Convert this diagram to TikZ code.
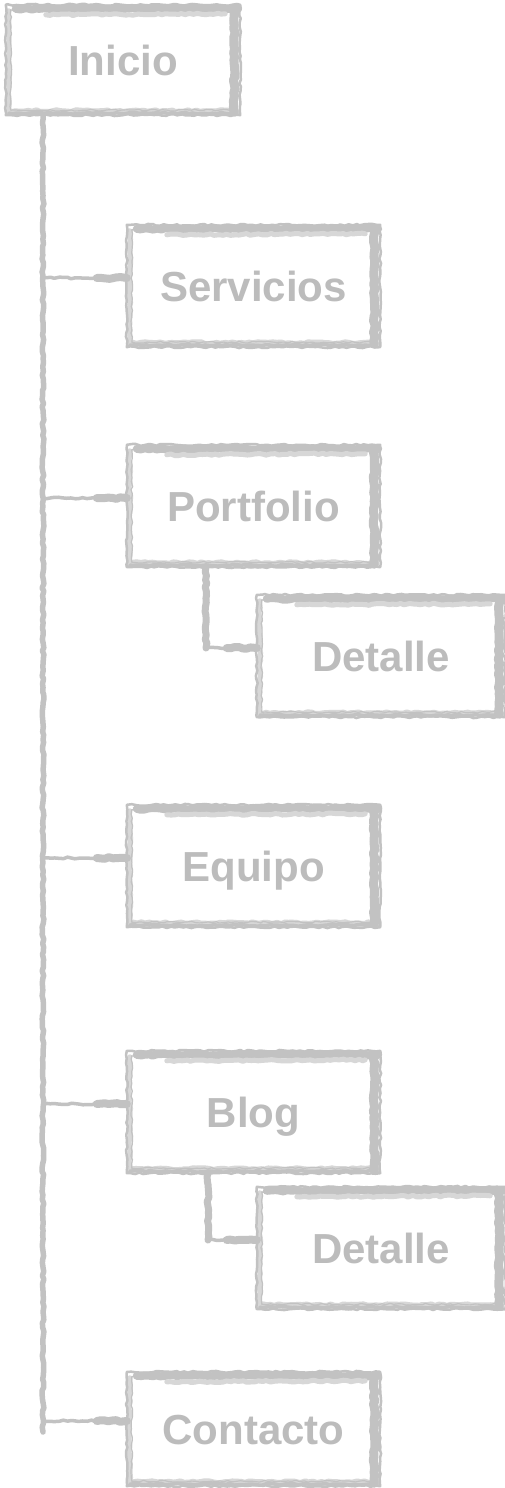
\documentclass[tikz,border=0pt]{standalone}
\usepackage{fontspec}
\setmainfont{Liberation Sans}
\usetikzlibrary{decorations.pathmorphing,calc}
\definecolor{brush}{RGB}{194,194,194}
\definecolor{brushlight}{RGB}{215,215,215}
\definecolor{labelgray}{RGB}{188,188,188}

\tikzset{
  x=1pt, y=-1pt,
  pagebox/.style={minimum width=253pt, minimum height=122pt, inner sep=0pt,
    text height=30pt, text depth=0pt, text=labelgray,
    font=\fontsize{42}{48}\selectfont\bfseries},
  rough/.style={draw=brush, line cap=round, line join=round, decorate,
    decoration={random steps, segment length=4pt, amplitude=0.9pt}},
  faint/.style={rough, draw=brushlight},
  link/.style={rough, line width=3.5pt},
  linkend/.style={rough, line width=8pt},
  trunk/.style={rough, line width=5.5pt},
}

% hand-brushed frame around a named node
\newcommand\brushframe[1]{%
  \draw[faint, line width=6pt] ([shift={(2,-4)}]#1.south west) -- ([shift={(-4,-4)}]#1.south east);
  \draw[faint, line width=5pt] ([shift={(3,6)}]#1.north west) -- ([shift={(3,-4)}]#1.south west);
  \draw[rough, line width=2.5pt] (#1.north west) rectangle (#1.south east);
  \draw[rough, line width=1.2pt] ([shift={(5,5)}]#1.north west) rectangle ([shift={(-5,-5)}]#1.south east);
  \draw[rough, line width=8pt] ([shift={(10,4)}]#1.north west) -- ([shift={(-2,4)}]#1.north east);
  \draw[faint, line width=5pt] ([shift={(40,10)}]#1.north west) -- ([shift={(-15,9)}]#1.north east);
  \draw[rough, line width=9pt] ([shift={(-6,4)}]#1.north east) -- ([shift={(-6,-3)}]#1.south east);
  \draw[rough, line width=3.5pt] ([shift={(3,-2)}]#1.south west) -- ([shift={(-3,-2)}]#1.south east);
}

% brush stroke from a point on a stem to the left side of a node
\newcommand\brushlink[2]{%
  \draw[link] (#1) -- ([shift={(0,-8)}]#2.west);
  \draw[linkend] ([shift={(-30,-8)}]#2.west) -- ([shift={(0,-8)}]#2.west);
}

\begin{document}
\begin{tikzpicture}
  \useasboundingbox (0,0) rectangle (505,1488);
  \fill[white] (0,0) rectangle (505,1488);

  % pages
  \node[pagebox, minimum width=234pt, minimum height=110pt] (inicio) at (123,60) {Inicio};
  \node[pagebox] (servicios) at (253.5,286) {Servicios};
  \node[pagebox] (portfolio) at (253.5,506) {Portfolio};
  \node[pagebox, minimum width=248pt] (detalle1) at (381,656) {Detalle};
  \node[pagebox] (equipo) at (253.5,866) {Equipo};
  \node[pagebox] (blog) at (253.5,1112) {Blog};
  \node[pagebox, minimum width=248pt] (detalle2) at (381,1248) {Detalle};
  \node[pagebox, minimum height=114pt] (contacto) at (253.5,1429) {Contacto};

  \foreach \n in {inicio,servicios,portfolio,detalle1,equipo,blog,detalle2,contacto}
    {\brushframe{\n}}

  % main stem
  \coordinate (stemtop) at (inicio.south -| 43,0);
  \coordinate (stemend) at (43,1432);
  \draw[trunk] (stemtop) -- (stemend);

  % branches off the main stem
  \foreach \n in {servicios,portfolio,equipo,blog,contacto}
    {\coordinate (b-\n) at ([shift={(0,-8)}]\n.west -| stemtop);
     \brushlink{b-\n}{\n}}

  % sub-page stems
  \coordinate (drop1) at (portfolio.south -| 206,0);
  \coordinate (knee1) at ([shift={(0,-8)}]detalle1.west -| drop1);
  \draw[rough, line width=7pt] (drop1) -- (knee1);
  \brushlink{knee1}{detalle1}

  \coordinate (drop2) at (blog.south -| 208,0);
  \coordinate (knee2) at ([shift={(0,-8)}]detalle2.west -| drop2);
  \draw[rough, line width=7pt] (drop2) -- (knee2);
  \brushlink{knee2}{detalle2}
\end{tikzpicture}
\end{document}
